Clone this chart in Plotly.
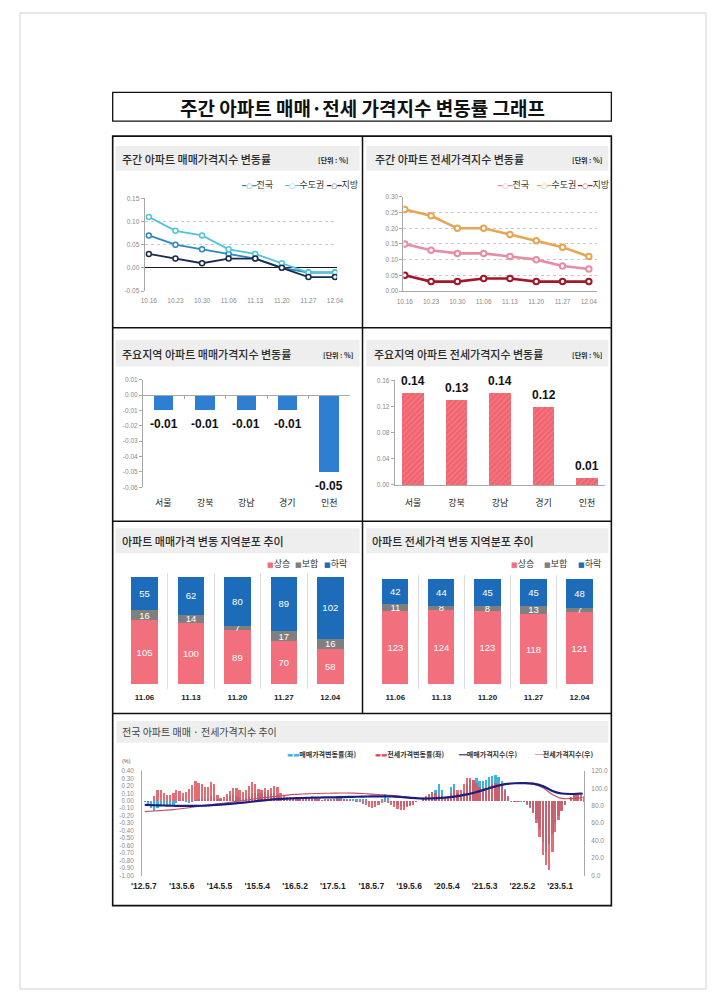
import pandas as pd
import plotly.graph_objects as go

# ---------------- data ----------------
weeks = ["10.16", "10.23", "10.30", "11.06", "11.13", "11.20", "11.27", "12.04"]
sale_nat = [0.07, 0.05, 0.04, 0.03, 0.02, 0.00, -0.01, -0.01]
sale_cap = [0.11, 0.08, 0.07, 0.04, 0.03, 0.01, -0.01, -0.01]
sale_loc = [0.03, 0.02, 0.01, 0.02, 0.02, 0.00, -0.02, -0.02]
jeon_nat = [0.15, 0.13, 0.12, 0.12, 0.11, 0.10, 0.08, 0.07]
jeon_cap = [0.26, 0.24, 0.20, 0.20, 0.18, 0.16, 0.14, 0.11]
jeon_loc = [0.05, 0.03, 0.03, 0.04, 0.04, 0.03, 0.03, 0.03]
series_names = ["전국", "수도권", "지방"]
sale_ticks = [-0.05, 0.00, 0.05, 0.10, 0.15]
jeon_ticks = [0.00, 0.05, 0.10, 0.15, 0.20, 0.25, 0.30]

regions = ["서울", "강북", "강남", "경기", "인천"]
region_sale = [-0.01, -0.01, -0.01, -0.01, -0.05]
region_jeon = [0.14, 0.13, 0.14, 0.12, 0.01]
rsale_ticks = [-0.06, -0.05, -0.04, -0.03, -0.02, -0.01, 0.00, 0.01]
rjeon_ticks = [0.00, 0.04, 0.08, 0.12, 0.16]

dist_weeks = ["11.06", "11.13", "11.20", "11.27", "12.04"]
dist_names = ["상승", "보합", "하락"]
sale_up = [105, 100, 89, 70, 58]
sale_flat = [16, 14, 7, 17, 16]
sale_down = [55, 62, 80, 89, 102]
jeon_up = [123, 124, 123, 118, 121]
jeon_flat = [11, 8, 8, 13, 7]
jeon_down = [42, 44, 45, 45, 48]

# long-run weekly change (monthly readings), 2012.05 - 2023.12
sale_chg = [
    -0.02, -0.06, -0.10, -0.14, -0.10, -0.07, -0.05, -0.06,                     # 2012
    -0.07, -0.05, -0.03, 0.01, 0.02, -0.01, -0.03, -0.02, 0.01, 0.03, 0.03, 0.02,  # 2013
    0.04, 0.07, 0.05, 0.03, 0.02, 0.00, 0.03, 0.06, 0.08, 0.07, 0.05, 0.03,     # 2014
    0.04, 0.07, 0.09, 0.11, 0.10, 0.10, 0.12, 0.11, 0.10, 0.11, 0.08, 0.04,     # 2015
    0.01, 0.00, 0.01, 0.02, 0.02, 0.03, 0.03, 0.03, 0.04, 0.06, 0.05, 0.02,     # 2016
    0.01, 0.01, 0.01, 0.02, 0.03, 0.06, 0.05, 0.02, 0.02, 0.03, 0.03, 0.02,     # 2017
    0.03, 0.03, 0.02, 0.00, -0.02, -0.03, -0.02, 0.03, 0.09, 0.04, -0.01, -0.03,  # 2018
    -0.05, -0.07, -0.08, -0.07, -0.06, -0.04, -0.02, 0.00, 0.02, 0.05, 0.08, 0.12,  # 2019
    0.14, 0.22, 0.14, 0.05, 0.03, 0.18, 0.22, 0.10, 0.09, 0.12, 0.22, 0.28,     # 2020
    0.28, 0.30, 0.27, 0.26, 0.28, 0.32, 0.33, 0.34, 0.32, 0.27, 0.16, 0.06,     # 2021
    -0.01, -0.02, -0.02, -0.01, -0.02, -0.05, -0.10, -0.17, -0.25, -0.38, -0.55, -0.68,  # 2022
    -0.58, -0.45, -0.30, -0.20, -0.12, -0.05, 0.00, 0.05, 0.08, 0.08, 0.03, -0.01,  # 2023
]
jeon_chg = [
    0.00, -0.01, 0.00, 0.06, 0.14, 0.14, 0.10, 0.08,                            # 2012
    0.08, 0.11, 0.14, 0.13, 0.10, 0.12, 0.16, 0.21, 0.26, 0.24, 0.22, 0.18,     # 2013
    0.19, 0.25, 0.22, 0.08, 0.04, 0.05, 0.09, 0.13, 0.17, 0.17, 0.14, 0.12,     # 2014
    0.14, 0.20, 0.25, 0.22, 0.16, 0.15, 0.17, 0.14, 0.17, 0.20, 0.18, 0.10,     # 2015
    0.06, 0.05, 0.05, 0.04, 0.03, 0.03, 0.03, 0.04, 0.04, 0.04, 0.03, 0.02,     # 2016
    0.01, 0.02, 0.02, 0.01, 0.02, 0.02, 0.02, 0.02, 0.01, 0.01, 0.00, -0.01,    # 2017
    -0.02, -0.04, -0.06, -0.08, -0.10, -0.09, -0.06, -0.03, -0.02, -0.03, -0.06, -0.09,  # 2018
    -0.11, -0.13, -0.12, -0.09, -0.07, -0.05, -0.02, 0.00, 0.03, 0.06, 0.09, 0.12,  # 2019
    0.10, 0.08, 0.07, 0.05, 0.06, 0.10, 0.16, 0.15, 0.14, 0.22, 0.30, 0.31,     # 2020
    0.28, 0.24, 0.18, 0.15, 0.17, 0.20, 0.22, 0.24, 0.23, 0.21, 0.13, 0.05,     # 2021
    0.00, -0.02, -0.01, 0.00, -0.01, -0.04, -0.08, -0.16, -0.30, -0.48, -0.72, -0.86,  # 2022
    -0.92, -0.68, -0.42, -0.26, -0.14, -0.06, 0.00, 0.05, 0.09, 0.10, 0.08, 0.07,  # 2023
]
chg_months = pd.date_range("2012-05-01", "2023-12-01", freq="MS") + pd.Timedelta(days=14)

idx_dates = [
    "2012-05-15", "2012-08-15", "2012-11-15",
    "2013-02-15", "2013-05-15", "2013-08-15", "2013-11-15",
    "2014-02-15", "2014-05-15", "2014-08-15", "2014-11-15",
    "2015-02-15", "2015-05-15", "2015-08-15", "2015-11-15",
    "2016-02-15", "2016-05-15", "2016-08-15", "2016-11-15",
    "2017-02-15", "2017-05-15", "2017-08-15", "2017-11-15",
    "2018-02-15", "2018-05-15", "2018-08-15", "2018-11-15",
    "2019-02-15", "2019-05-15", "2019-08-15", "2019-11-15",
    "2020-02-15", "2020-05-15", "2020-08-15", "2020-11-15",
    "2021-02-15", "2021-05-15", "2021-08-15", "2021-11-15",
    "2022-02-15", "2022-05-15", "2022-08-15", "2022-11-15",
    "2023-02-15", "2023-05-15", "2023-08-15", "2023-11-15", "2023-12-04",
]
sale_idx = [
    81.0, 80.6, 80.3,
    80.0, 79.8, 79.8, 80.0,
    80.6, 81.3, 82.2, 83.2,
    84.3, 85.5, 86.6, 87.5,
    88.2, 88.7, 89.0, 89.3,
    89.5, 89.7, 90.0, 90.2,
    90.5, 90.7, 90.8, 90.8,
    90.0, 89.0, 88.3, 88.3,
    88.8, 89.5, 91.0, 93.0,
    95.8, 99.0, 102.2, 104.8,
    105.8, 106.0, 105.4, 102.5,
    97.0, 94.0, 93.5, 94.0, 93.8,
]
jeon_idx = [
    73.3, 74.0, 74.8,
    75.6, 76.8, 78.2, 79.8,
    81.3, 82.6, 84.0, 85.4,
    86.9, 88.4, 89.8, 91.0,
    92.2, 93.0, 93.6, 94.0,
    94.3, 94.5, 94.6, 94.5,
    94.1, 93.3, 92.6, 92.0,
    90.9, 89.7, 88.7, 88.5,
    88.9, 89.5, 90.8, 93.2,
    96.2, 98.8, 101.8, 104.4,
    105.6, 105.7, 104.6, 100.6,
    93.0, 88.5, 88.2, 89.0, 89.5,
]
hist_tick_dates = ["2012-05-07", "2013-05-06", "2014-05-05", "2015-05-04", "2016-05-02", "2017-05-01",
                   "2018-05-07", "2019-05-06", "2020-05-04", "2021-05-03", "2022-05-02", "2023-05-01"]
hist_tick_text = ["'12.5.7", "'13.5.6", "'14.5.5", "'15.5.4", "'16.5.2", "'17.5.1",
                  "'18.5.7", "'19.5.6", "'20.5.4", "'21.5.3", "'22.5.2", "'23.5.1"]
hist_left_ticks = [0.40, 0.30, 0.20, 0.10, 0.00, -0.10, -0.20, -0.30, -0.40, -0.50,
                   -0.60, -0.70, -0.80, -0.90, -1.00]
hist_right_ticks = [0, 20, 40, 60, 80, 100, 120]
hist_names = ["매매가격변동률(좌)", "전세가격변동률(좌)", "매매가격지수(우)", "전세가격지수(우)"]

# ---------------- styling helpers ----------------
# The page keeps the browser's default 8px body margin, so the figure is sized to
# fill the 721x1001 window exactly inside it; positions below are window pixels.
PAGE_W, PAGE_H, OFF = 721, 1001, 8
W, H = PAGE_W - 2 * OFF, PAGE_H - 2 * OFF
KR = "Noto Sans CJK KR"
NUM = "Liberation Sans"
NARROW = "Liberation Sans Narrow, Liberation Sans"


def fx(p):
    return (p - OFF) / W


def fy(p):
    return 1 - (p - OFF) / H


def fmt2(v):
    return f"{v:.2f}"


C1 = ["#2c88c0", "#52c4da", "#1c2a4c"]      # sale lines
C2 = ["#e78ca2", "#e6a550", "#a3172d"]      # jeonse lines
C_UP, C_FLAT, C_DOWN = "#f2707e", "#7f7f7f", "#1c6cb9"
C_SALE_BAR, C_JEON_BAR = "#3fb4d9", "#e0545e"

fig = go.Figure()

# ---- panel 1: weekly sale index change ----
for name, vals, col in zip(series_names, [sale_nat, sale_cap, sale_loc], C1):
    fig.add_trace(go.Scatter(
        x=weeks, y=vals, name=name, mode="lines+markers", xaxis="x", yaxis="y",
        line=dict(color=col, width=1.8),
        marker=dict(symbol="circle", size=5, color="white", line=dict(color=col, width=1.5)),
        showlegend=False, hoverinfo="skip"))

# ---- panel 2: weekly jeonse index change ----
for name, vals, col in zip(series_names, [jeon_nat, jeon_cap, jeon_loc], C2):
    fig.add_trace(go.Scatter(
        x=weeks, y=vals, name=name, mode="lines+markers", xaxis="x2", yaxis="y2",
        line=dict(color=col, width=2.6),
        marker=dict(symbol="circle", size=5.5, color="white", line=dict(color=col, width=2)),
        showlegend=False, hoverinfo="skip"))

# ---- panel 3: regional sale ----
fig.add_trace(go.Bar(x=regions, y=region_sale, xaxis="x3", yaxis="y3", width=0.47,
                     marker=dict(color="#2e7fd2", line=dict(width=0)), showlegend=False, hoverinfo="skip"))

# ---- panel 4: regional jeonse ----
fig.add_trace(go.Bar(x=regions, y=region_jeon, xaxis="x4", yaxis="y4", width=0.49,
                     marker=dict(color="#f0646f", line=dict(width=0),
                                 pattern=dict(shape="/", bgcolor="#f0646f", fgcolor="#f6a0a8",
                                              size=4, solidity=0.25)),
                     showlegend=False, hoverinfo="skip"))

# ---- panels 5, 6: distribution stacks ----
def add_dist(up, flat, down, xa, ya):
    bases = [None, up, [u + f for u, f in zip(up, flat)]]
    for vals, base, col, name in zip([up, flat, down], bases, [C_UP, C_FLAT, C_DOWN], dist_names):
        fig.add_trace(go.Bar(
            x=dist_weeks, y=vals, base=base, name=name, xaxis=xa, yaxis=ya, width=0.57,
            marker=dict(color=col, line=dict(width=0)),
            text=vals, texttemplate="%{text}", textposition="inside", insidetextanchor="middle",
            constraintext="none", textangle=0,
            textfont=dict(color="white", size=9.5, family=NUM),
            showlegend=False, hoverinfo="skip"))


add_dist(sale_up, sale_flat, sale_down, "x5", "y5")
add_dist(jeon_up, jeon_flat, jeon_down, "x6", "y6")

# ---- panel 7: long-run ----
bar_w = 22 * 24 * 3600 * 1000
fig.add_trace(go.Bar(x=chg_months, y=sale_chg, name=hist_names[0], xaxis="x7", yaxis="y7", width=bar_w,
                     marker=dict(color=C_SALE_BAR, line=dict(width=0)), showlegend=False, hoverinfo="skip"))
fig.add_trace(go.Bar(x=chg_months, y=jeon_chg, name=hist_names[1], xaxis="x7", yaxis="y7", width=bar_w,
                     marker=dict(color=C_JEON_BAR, line=dict(width=0)), opacity=0.85,
                     showlegend=False, hoverinfo="skip"))
fig.add_trace(go.Scatter(x=idx_dates, y=jeon_idx, name=hist_names[3], xaxis="x7", yaxis="y8", mode="lines",
                         line=dict(color="#c2505e", width=1.1, shape="spline"), showlegend=False,
                         hoverinfo="skip"))
fig.add_trace(go.Scatter(x=idx_dates, y=sale_idx, name=hist_names[2], xaxis="x7", yaxis="y8", mode="lines",
                         line=dict(color="#1d1d80", width=2.2, shape="spline"), showlegend=False,
                         hoverinfo="skip"))

# ---------------- axes ----------------
tick_small = dict(family=NUM, size=6.5, color="#8a8a8a")
axis_gray = "#a8a8a8"
common_y = dict(showline=True, linecolor=axis_gray, linewidth=1, ticks="outside", ticklen=3,
                tickcolor=axis_gray, tickfont=tick_small, fixedrange=True)

layout_axes = dict(
    xaxis=dict(domain=[fx(136.7), fx(334)], anchor="y", type="category", range=[-0.16, 7.08],
               showline=False, ticks="", showgrid=False, tickfont=tick_small, ticklabelstandoff=4),
    yaxis=dict(domain=[fy(289), fy(195.7)], anchor="x", range=[-0.05, 0.15],
               tickvals=sale_ticks, ticktext=[fmt2(v) for v in sale_ticks],
               showgrid=True, gridcolor="#c9c9c9", griddash="dot", gridwidth=1,
               zeroline=True, zerolinecolor="#1a1a1a", zerolinewidth=1.2, **common_y),
    xaxis2=dict(domain=[fx(402), fx(600)], anchor="y2", type="category", range=[-0.05, 7.3],
                showline=True, linecolor=axis_gray, ticks="", showgrid=False, tickfont=tick_small,
                ticklabelstandoff=4),
    yaxis2=dict(domain=[fy(289), fy(194.3)], anchor="x2", range=[0, 0.30],
                tickvals=jeon_ticks, ticktext=[fmt2(v) for v in jeon_ticks],
                showgrid=True, gridcolor="#c9c9c9", griddash="dot", zeroline=False, **common_y),
    xaxis3=dict(domain=[fx(135), fx(347)], anchor="free", position=fy(393.8), type="category",
                range=[-0.5, 4.5], showline=True, linecolor=axis_gray, ticks="outside", ticklen=3,
                tickcolor=axis_gray, tickson="boundaries", showticklabels=False, showgrid=False),
    yaxis3=dict(domain=[fy(486.7), fy(378.3)], anchor="x3", range=[-0.06, 0.01],
                tickvals=rsale_ticks, ticktext=[fmt2(v) for v in rsale_ticks],
                showgrid=False, zeroline=False, **common_y),
    xaxis4=dict(domain=[fx(393), fx(608)], anchor="y4", type="category", range=[-0.42, 4.4],
                showline=True, linecolor=axis_gray, ticks="", showgrid=False,
                tickfont=dict(family=KR, size=9, color="#222"), ticklabelstandoff=9),
    yaxis4=dict(domain=[fy(484.3), fy(379)], anchor="x4", range=[0, 0.16],
                tickvals=rjeon_ticks, ticktext=[fmt2(v) for v in rjeon_ticks],
                showgrid=False, zeroline=False, **common_y),
    xaxis5=dict(domain=[fx(113.3), fx(350.3)], anchor="y5", type="category", range=[-0.49, 4.49],
                showline=False, ticks="", showgrid=True, gridcolor="#dcdcdc", tickson="boundaries",
                tickfont=dict(family=NUM, size=8, color="#222", weight="bold"), ticklabelstandoff=2),
    yaxis5=dict(domain=[fy(690), fy(573)], anchor="x5", range=[-8.1, 182], visible=False),
    xaxis6=dict(domain=[fx(370.5), fx(605.5)], anchor="y6", type="category", range=[-0.49, 4.49],
                showline=False, ticks="", showgrid=True, gridcolor="#dcdcdc", tickson="boundaries",
                tickfont=dict(family=NUM, size=8, color="#222", weight="bold"), ticklabelstandoff=2),
    yaxis6=dict(domain=[fy(690), fy(575)], anchor="x6", range=[-8.3, 183.2], visible=False),
    xaxis7=dict(domain=[fx(134), fx(587)], anchor="y7", type="date", range=["2012-04-18", "2023-12-17"],
                tickvals=hist_tick_dates, ticktext=hist_tick_text, showline=False, ticks="",
                showgrid=False, tickfont=dict(family=NUM, size=8.5, color="#222", weight="bold"),
                ticklabelstandoff=4),
    yaxis7=dict(domain=[fy(877.7), fy(772.3)], anchor="x7", range=[-1.0, 0.4],
                tickvals=hist_left_ticks, ticktext=[fmt2(v) for v in hist_left_ticks],
                showgrid=False, zeroline=False, showline=True, linecolor=axis_gray, ticks="",
                tickfont=dict(family=NUM, size=6.3, color="#8a8a8a"), ticklabelstandoff=6),
    yaxis8=dict(overlaying="y7", anchor="x7", side="right", range=[0, 120],
                tickvals=hist_right_ticks, ticktext=[f"{v:.1f}" for v in hist_right_ticks],
                showgrid=False, zeroline=False, showline=True, linecolor=axis_gray, ticks="",
                tickfont=dict(family=NUM, size=6.5, color="#8a8a8a"), ticklabelstandoff=5),
)

# ---------------- frame shapes ----------------
def rect(x0, y0, x1, y1, line=None, fill=None, layer="below"):
    d = dict(type="rect", xref="paper", yref="paper", x0=fx(x0), x1=fx(x1), y0=fy(y0), y1=fy(y1),
             layer=layer)
    d["line"] = line if line else dict(width=0)
    if fill:
        d["fillcolor"] = fill
    return d


def hline(x0, x1, y, width=1.5, color="#111"):
    return dict(type="line", xref="paper", yref="paper", x0=fx(x0), x1=fx(x1), y0=fy(y), y1=fy(y),
                line=dict(color=color, width=width))


def vline(x, y0, y1, width=1.5, color="#111"):
    return dict(type="line", xref="paper", yref="paper", x0=fx(x), x1=fx(x), y0=fy(y0), y1=fy(y1),
                line=dict(color=color, width=width))


HEAD = "#eeeeee"
shapes = [
    rect(9, 9, 712, 992, line=dict(color="#d2d2d2", width=1)),
    rect(104, 89, 615, 118, line=dict(color="#111", width=1.3)),
    rect(107, 143, 357, 168, fill=HEAD),
    rect(364, 143, 612, 168, fill=HEAD),
    rect(107, 338, 357, 365, fill=HEAD),
    rect(364, 338, 612, 365, fill=HEAD),
    rect(107, 528, 357, 553, fill=HEAD),
    rect(364, 528, 612, 553, fill=HEAD),
    rect(108, 722, 612, 744, fill=HEAD),
    rect(104, 133, 615, 908, line=dict(color="#111", width=1.6)),
    vline(360, 133, 715),
    hline(104, 615, 326),
    hline(104, 615, 521),
    hline(104, 615, 714.5),
]

# ---------------- annotations ----------------
ann = []


def text_at(x, y, s, size, color="#333", family=KR, xanchor="left", weight="normal"):
    ann.append(dict(xref="paper", yref="paper", x=fx(x), y=fy(y), xanchor=xanchor, yanchor="middle",
                    text=s, showarrow=False, font=dict(family=family, size=size, color=color, weight=weight)))


text_at(360, 104, "주간 아파트 매매·전세 가격지수 변동률 그래프", 19, "#111", xanchor="center", weight="bold")
titles = [
    (112, 156, "주간 아파트 매매가격지수 변동률", 347),
    (371, 156, "주간 아파트 전세가격지수 변동률", 607),
    (112, 352, "주요지역 아파트 매매가격지수 변동률", 352),
    (370, 352, "주요지역 아파트 전세가격지수 변동률", 607),
    (112, 541, "아파트 매매가격 변동 지역분포 추이", None),
    (368, 541, "아파트 전세가격 변동 지역분포 추이", None),
]
for x, y, s, ux in titles:
    text_at(x, y, s, 11, "#2a2a2a", weight=500)
    if ux:
        text_at(ux, y + 1, "[단위 : %]", 7, "#222", xanchor="right", weight="bold")
text_at(112, 733, "전국 아파트 매매 · 전세가격지수 추이", 10, "#444")
text_at(111, 762, "(%)", 5.5, "#555", family=NUM)

# category labels of panel 3 (placed on the category scale, below the plot)
for r in regions:
    ann.append(dict(xref="x3", yref="paper", x=r, y=fy(501.7), xanchor="center", yanchor="middle",
                    text=r, showarrow=False, font=dict(family=KR, size=9, color="#222")))


def legend_item(x, y, icon, icon_color, label, icon_size=8, label_size=8.5, label_color="#333",
                icon_font="DejaVu Sans", weight="normal"):
    ann.append(dict(
        xref="paper", yref="paper", x=fx(x), y=fy(y), xanchor="left", yanchor="middle", showarrow=False,
        text=(f"<span style='color:{icon_color};font-family:{icon_font};font-size:{icon_size}px'>"
              f"{icon}</span>{label}"),
        font=dict(family=KR, size=label_size, color=label_color, weight=weight)))


for x, name, col in zip([233, 278, 321], series_names, C1):
    legend_item(x, 181.7, "━○━", col, name, icon_size=7, label_size=9)
for x, name, col in zip([496, 536, 578], series_names, C2):
    legend_item(x, 182, "━○━", col, name, icon_size=7, label_size=9)
for x, name, col in zip([260, 289, 318], dist_names, [C_UP, C_FLAT, C_DOWN]):
    legend_item(x, 563, "■", col, name, icon_size=7, label_size=9)
for x, name, col in zip([510, 544, 579], dist_names, [C_UP, C_FLAT, C_DOWN]):
    legend_item(x, 563, "■", col, name, icon_size=7, label_size=9)
for x, name, col, icon in zip([281, 371, 456, 534], hist_names,
                              [C_SALE_BAR, C_JEON_BAR, "#1d1d80", "#c2505e"],
                              ["▬▬", "▬▬", "━━", "──"]):
    legend_item(x, 755, icon, col, name, icon_size=6.5, label_size=7, label_color="#333", weight="bold")

# end-of-line labels, panel 1 and 2
for vals, col, ys in zip([sale_nat, sale_cap, sale_loc], ["#2c88c0", "#45bcd2", "#111"], [2, 16, -7]):
    ann.append(dict(xref="x", yref="y", x=weeks[-1], y=vals[-1], xanchor="left", yanchor="middle",
                    xshift=3, yshift=ys, text=fmt2(vals[-1]), showarrow=False,
                    font=dict(family=NARROW, size=10.5, color=col, weight="bold")))
for vals, col, ys in zip([jeon_nat, jeon_cap, jeon_loc], ["#e07a94", "#e1a047", "#9c1028"], [-5, -6, -6]):
    ann.append(dict(xref="x2", yref="y2", x=weeks[-1], y=vals[-1], xanchor="left", yanchor="middle",
                    xshift=1, yshift=ys, text=fmt2(vals[-1]), showarrow=False,
                    font=dict(family=NARROW, size=11, color=col, weight="bold")))

# bar value labels, panels 3 and 4
for r, v in zip(regions, region_sale):
    ann.append(dict(xref="x3", yref="y3", x=r, y=v, xanchor="center", yanchor="top", yshift=-5,
                    text=fmt2(v), showarrow=False,
                    font=dict(family=NARROW, size=12, color="#111", weight="bold")))
for r, v in zip(regions, region_jeon):
    ann.append(dict(xref="x4", yref="y4", x=r, y=v, xanchor="center", yanchor="bottom", yshift=3,
                    text=fmt2(v), showarrow=False,
                    font=dict(family=NARROW, size=12, color="#111", weight="bold")))

fig.update_layout(
    width=W, height=H, autosize=False, margin=dict(l=0, r=0, t=0, b=0),
    paper_bgcolor="white", plot_bgcolor="rgba(0,0,0,0)",
    barmode="overlay", bargap=0, hovermode=False, showlegend=False,
    font=dict(family=KR, color="#333"),
    shapes=shapes, annotations=ann, **layout_axes)

fig.write_html("out.html", config={"displayModeBar": False, "staticPlot": True})
